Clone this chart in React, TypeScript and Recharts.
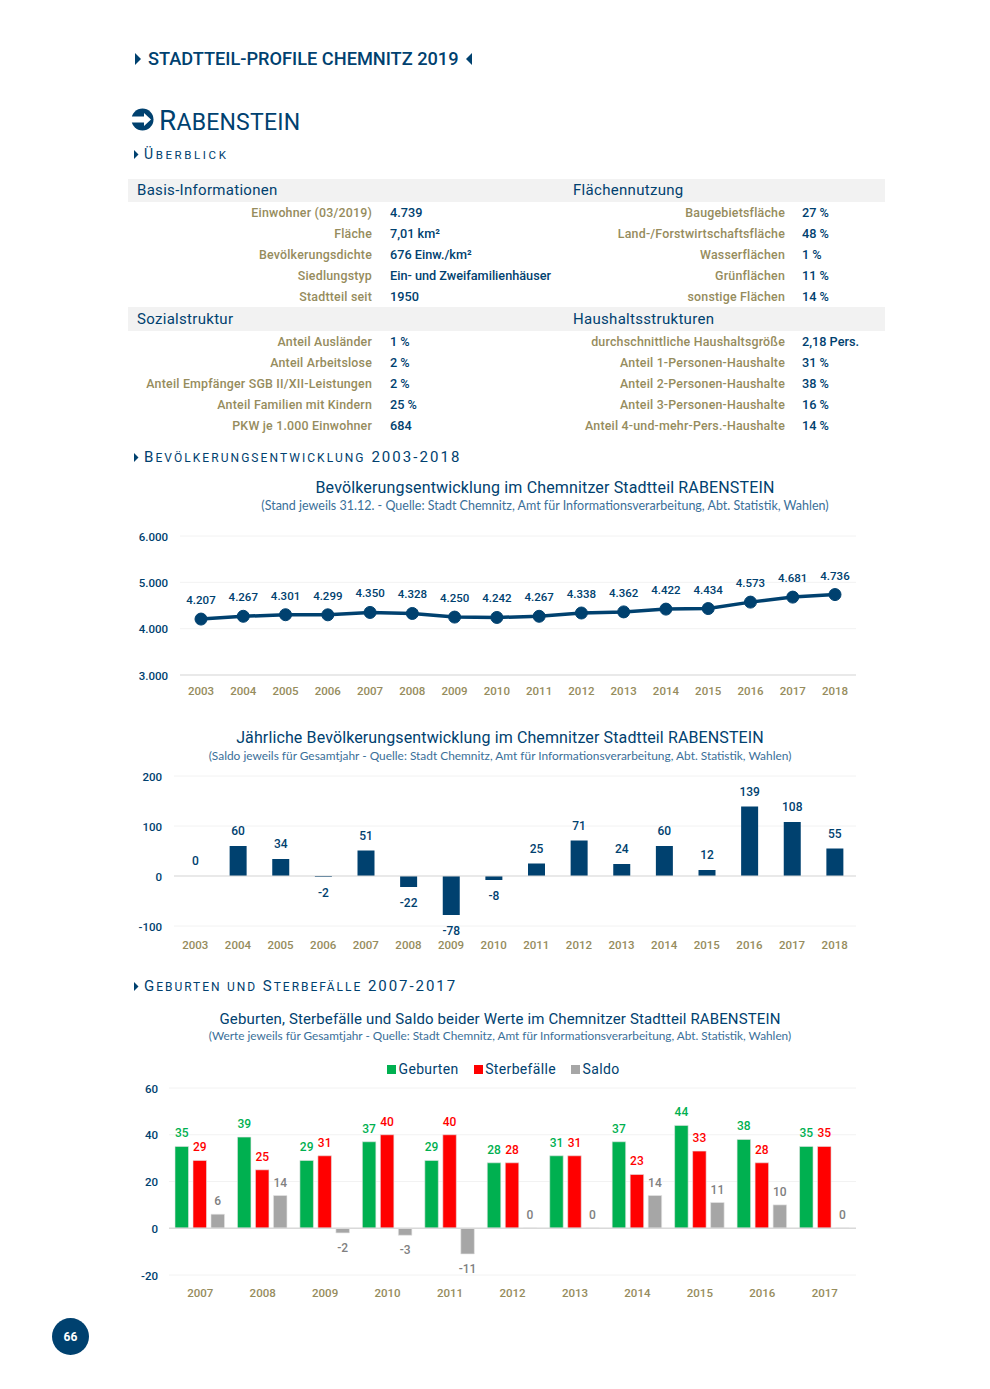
import React from "react";
import {
  BarChart,
  Bar,
  LineChart,
  Line,
  XAxis,
  YAxis,
  CartesianGrid,
  ReferenceLine,
  LabelList,
  Legend,
} from "recharts";

const NAVY = "#00416f";
const OLIVE = "#968c5d";
const FONT = "Roboto, sans-serif";

const popYears = ["2003", "2004", "2005", "2006", "2007", "2008", "2009", "2010", "2011", "2012", "2013", "2014", "2015", "2016", "2017", "2018"];
const population = [4207, 4267, 4301, 4299, 4350, 4328, 4250, 4242, 4267, 4338, 4362, 4422, 4434, 4573, 4681, 4736];
const saldoYear = [0, 60, 34, -2, 51, -22, -78, -8, 25, 71, 24, 60, 12, 139, 108, 55];

const birthYears = ["2007", "2008", "2009", "2010", "2011", "2012", "2013", "2014", "2015", "2016", "2017"];
const geburten = [35, 39, 29, 37, 29, 28, 31, 37, 44, 38, 35];
const sterbefaelle = [29, 25, 31, 40, 40, 28, 31, 23, 33, 28, 35];
const saldo = [6, 14, -2, -3, -11, 0, 0, 14, 11, 10, 0];

const popTicks = [3000, 4000, 5000, 6000];
const saldoTicks = [-100, 0, 100, 200];
const birthTicks = [-20, 0, 20, 40, 60];

const basisRows = [
  ["Einwohner (03/2019)", "4.739"],
  ["Fläche", "7,01 km²"],
  ["Bevölkerungsdichte", "676 Einw./km²"],
  ["Siedlungstyp", "Ein- und Zweifamilienhäuser"],
  ["Stadtteil seit", "1950"],
];
const flaecheRows = [
  ["Baugebietsfläche", "27 %"],
  ["Land-/Forstwirtschaftsfläche", "48 %"],
  ["Wasserflächen", "1 %"],
  ["Grünflächen", "11 %"],
  ["sonstige Flächen", "14 %"],
];
const sozialRows = [
  ["Anteil Ausländer", "1 %"],
  ["Anteil Arbeitslose", "2 %"],
  ["Anteil Empfänger SGB II/XII-Leistungen", "2 %"],
  ["Anteil Familien mit Kindern", "25 %"],
  ["PKW je 1.000 Einwohner", "684"],
];
const haushaltRows = [
  ["durchschnittliche Haushaltsgröße", "2,18 Pers."],
  ["Anteil 1-Personen-Haushalte", "31 %"],
  ["Anteil 2-Personen-Haushalte", "38 %"],
  ["Anteil 3-Personen-Haushalte", "16 %"],
  ["Anteil 4-und-mehr-Pers.-Haushalte", "14 %"],
];

const popData = popYears.map((year, i) => ({ year, value: population[i] }));
const saldoData = popYears.map((year, i) => ({ year, value: saldoYear[i] }));
const birthData = birthYears.map((year, i) => ({
  year,
  Geburten: geburten[i],
  Sterbefälle: sterbefaelle[i],
  Saldo: saldo[i],
}));

const de = (v: number) => v.toLocaleString("de-DE");

// page text, placed by its vertical centre
function T({ x, y, size = 13, color = NAVY, anchor = "left", weight = 400, spacing = 0, font = FONT, children }: any) {
  const shift = anchor === "left" ? "0" : anchor === "center" ? "-50%" : "-100%";
  return (
    <div
      style={{
        position: "absolute",
        left: x,
        top: y,
        transform: `translate(${shift}, -50%)`,
        fontFamily: font,
        fontSize: size,
        fontWeight: weight,
        letterSpacing: spacing,
        color,
        whiteSpace: "nowrap",
        lineHeight: 1,
      }}
    >
      {children}
    </div>
  );
}

// small caps by hand: lower case letters get the smaller size
function Caps({ text, small }: { text: string; small: number }) {
  return (
    <>
      {text.split("").map((c, i) =>
        c !== c.toUpperCase() ? (
          <span key={i} style={{ fontSize: small }}>
            {c.toUpperCase()}
          </span>
        ) : (
          <span key={i}>{c}</span>
        )
      )}
    </>
  );
}

function Arrow({ x, y, dir = 1, size = 5 }: any) {
  const pts = dir > 0 ? `0,0 ${size},${size} 0,${size * 2}` : `${size},0 0,${size} ${size},${size * 2}`;
  return (
    <svg style={{ position: "absolute", left: x, top: y - size }} width={size} height={size * 2}>
      <polygon points={pts} fill={NAVY} />
    </svg>
  );
}

function Rows({ rows, top, labelX, valueX }: { rows: string[][]; top: number; labelX: number; valueX: number }) {
  return (
    <>
      {rows.map((r, i) => (
        <React.Fragment key={r[0]}>
          <T x={labelX} y={top + i * 21 + 0.5} size={12.4} color={OLIVE} anchor="right" spacing={0.2} weight={500}>
            {r[0]}
          </T>
          <T x={valueX} y={top + i * 21 + 0.5} size={12.7} weight={500}>
            {r[1]}
          </T>
        </React.Fragment>
      ))}
    </>
  );
}

const Band = ({ top, height }: any) => (
  <div style={{ position: "absolute", left: 128, top, width: 757, height, background: "#f2f2f2" }} />
);

const barLabel = (fill: string, gapUp: number, gapDown: number) => (p: any) => {
  const top = Math.min(p.y, p.y + p.height);
  const bottom = Math.max(p.y, p.y + p.height);
  const cy = p.value < 0 ? bottom + gapDown : top - gapUp;
  return (
    <text x={p.x + p.width / 2} y={cy} fill={fill} fontSize={12} fontFamily={FONT} fontWeight={500} textAnchor="middle" dominantBaseline="central">
      {p.value}
    </text>
  );
};

const lineLabel = (p: any) => (
  <text x={p.x} y={p.y - 19} fill={NAVY} fontSize={11.5} fontFamily={FONT} fontWeight={500} textAnchor="middle" dominantBaseline="central">
    {de(p.value)}
  </text>
);

const legendContent = ({ payload }: any) => (
  <div style={{ display: "flex", height: 18, alignItems: "center", fontFamily: FONT, fontSize: 14, letterSpacing: 0.35, color: NAVY, whiteSpace: "nowrap" }}>
    {(payload || []).map((e: any) => (
      <span key={e.value} style={{ display: "flex", alignItems: "center", marginRight: 15 }}>
        <span style={{ width: 9, height: 9, background: e.color, marginRight: 2.5 }} />
        {e.value}
      </span>
    ))}
  </div>
);

const yTick = { fontSize: 11.5, fontFamily: FONT, fontWeight: 500, fill: NAVY, dy: 0.5 };
const xTick = { fontSize: 11.5, fontFamily: FONT, fontWeight: 500, fill: OLIVE };
const barEdge = { stroke: "#e4e4e4", strokeWidth: 0.6 };

export default function App() {
  return (
    <div style={{ position: "absolute", left: 0, top: 0, width: 990, height: 1389, background: "#fff", overflow: "hidden" }}>
      <Arrow x={135} y={59} size={6} />
      <T x={148} y={59} size={18.2} weight={500}>STADTTEIL-PROFILE CHEMNITZ 2019</T>
      <Arrow x={466} y={59} dir={-1} size={6} />

      <svg style={{ position: "absolute", left: 131, top: 108 }} width={23} height={23}>
        <circle cx={11.5} cy={11.5} r={11} fill={NAVY} />
        <path d="M0 8.5 H13 V5 L20 11.5 L13 18 V14.5 H0 Z" fill="#fff" />
      </svg>
      <T x={159} y={121} size={28} spacing={0.2}><Caps text="Rabenstein" small={23} /></T>

      <Arrow x={134} y={154} size={4.5} />
      <T x={144} y={154} size={14} spacing={2.6}><Caps text="Überblick" small={11.5} /></T>

      <Band top={179} height={23} />
      <Band top={307} height={24} />
      <T x={137} y={190} size={15} spacing={0.3}>Basis-Informationen</T>
      <T x={573} y={190} size={15} spacing={0.3}>Flächennutzung</T>
      <T x={137} y={319} size={15} spacing={0.3}>Sozialstruktur</T>
      <T x={573} y={319} size={15} spacing={0.3}>Haushaltsstrukturen</T>
      <Rows rows={basisRows} top={212} labelX={372} valueX={390} />
      <Rows rows={flaecheRows} top={212} labelX={785} valueX={802} />
      <Rows rows={sozialRows} top={341} labelX={372} valueX={390} />
      <Rows rows={haushaltRows} top={341} labelX={785} valueX={802} />

      <Arrow x={134} y={457} size={4.5} />
      <T x={144} y={457} size={15} spacing={2.05}><Caps text="Bevölkerungsentwicklung 2003-2018" small={12} /></T>
      <T x={545} y={488} size={16} anchor="center" spacing={0.15}>Bevölkerungsentwicklung im Chemnitzer Stadtteil RABENSTEIN</T>
      <T x={545} y={506} size={12.5} anchor="center" font="Lato, sans-serif" color="#3a6f99">(Stand jeweils 31.12. - Quelle: Stadt Chemnitz, Amt für Informationsverarbeitung, Abt. Statistik, Wahlen)</T>

      <div style={{ position: "absolute", left: 120, top: 526 }}>
        <LineChart width={760} height={180} data={popData} margin={{ top: 10, right: 24, bottom: 0, left: 0 }}>
          <CartesianGrid vertical={false} stroke="#f2f2f2" />
          <XAxis dataKey="year" interval={0} height={31} tickLine={false} tickSize={0} tickMargin={12} padding={{ left: 21, right: 21 }} tick={xTick} axisLine={{ stroke: "#d9d9d9" }} />
          <YAxis width={60} domain={[3000, 6000]} ticks={popTicks} tickFormatter={de} axisLine={false} tickLine={false} tickSize={0} tickMargin={12} tick={yTick} />
          <Line dataKey="value" stroke={NAVY} strokeWidth={3.5} dot={{ r: 6, fill: NAVY, stroke: NAVY, strokeWidth: 1 }} isAnimationActive={false}>
            <LabelList dataKey="value" content={lineLabel} />
          </Line>
        </LineChart>
      </div>

      <T x={500} y={738} size={16} anchor="center" spacing={0.12}>Jährliche Bevölkerungsentwicklung im Chemnitzer Stadtteil RABENSTEIN</T>
      <T x={500} y={756} size={11.9} anchor="center" font="Lato, sans-serif" color="#3a6f99">(Saldo jeweils für Gesamtjahr - Quelle: Stadt Chemnitz, Amt für Informationsverarbeitung, Abt. Statistik, Wahlen)</T>

      <div style={{ position: "absolute", left: 120, top: 766 }}>
        <BarChart width={760} height={190} data={saldoData} margin={{ top: 10, right: 24, bottom: 0, left: 0 }}>
          <CartesianGrid vertical={false} stroke="#f2f2f2" />
          <XAxis dataKey="year" interval={0} height={30} axisLine={false} tickLine={false} tickSize={0} tickMargin={15} tick={xTick} />
          <YAxis width={54} domain={[-100, 200]} ticks={saldoTicks} axisLine={false} tickLine={false} tickSize={0} tickMargin={12} tick={yTick} />
          <ReferenceLine y={0} stroke="#d9d9d9" />
          <Bar dataKey="value" fill={NAVY} barSize={17} minPointSize={0.01} isAnimationActive={false}>
            <LabelList dataKey="value" content={barLabel(NAVY, 15, 16)} />
          </Bar>
        </BarChart>
      </div>

      <Arrow x={134} y={986} size={4.5} />
      <T x={144} y={986} size={15} spacing={1.95}><Caps text="Geburten und Sterbefälle 2007-2017" small={12} /></T>
      <T x={500} y={1019} size={15} anchor="center" spacing={0.13}>Geburten, Sterbefälle und Saldo beider Werte im Chemnitzer Stadtteil RABENSTEIN</T>
      <T x={500} y={1036} size={11.8} anchor="center" font="Lato, sans-serif" color="#3a6f99">(Werte jeweils für Gesamtjahr - Quelle: Stadt Chemnitz, Amt für Informationsverarbeitung, Abt. Statistik, Wahlen)</T>

      <div style={{ position: "absolute", left: 120, top: 1058 }}>
        <BarChart width={760} height={250} data={birthData} margin={{ top: 12, right: 24, bottom: 0, left: 0 }} barSize={13.5} barGap={4.5}>
          <CartesianGrid vertical={false} stroke="#f2f2f2" />
          <XAxis dataKey="year" interval={0} height={33} axisLine={false} tickLine={false} tickSize={0} tickMargin={14} tick={xTick} />
          <YAxis width={49} domain={[-20, 60]} ticks={birthTicks} axisLine={false} tickLine={false} tickSize={0} tickMargin={11} tick={yTick} />
          <Legend
            verticalAlign="top"
            itemSorter={null}
            content={legendContent}
            wrapperStyle={{ top: 2, left: 267, width: "auto" }}
          />
          <ReferenceLine y={0} stroke="#d9d9d9" strokeWidth={1.5} />
          <Bar dataKey="Geburten" fill="#00b050" {...barEdge} isAnimationActive={false}>
            <LabelList dataKey="Geburten" content={barLabel("#00b050", 13, 15)} />
          </Bar>
          <Bar dataKey="Sterbefälle" fill="#ff0000" {...barEdge} isAnimationActive={false}>
            <LabelList dataKey="Sterbefälle" content={barLabel("#ff0000", 13, 15)} />
          </Bar>
          <Bar dataKey="Saldo" fill="#a6a6a6" minPointSize={0.01} {...barEdge} isAnimationActive={false}>
            <LabelList dataKey="Saldo" content={barLabel("#808080", 13, 15)} />
          </Bar>
        </BarChart>
      </div>

      <svg style={{ position: "absolute", left: 52, top: 1318 }} width={37} height={37}>
        <circle cx={18.5} cy={18.5} r={18.5} fill={NAVY} />
        <text x={18.5} y={19} fill="#fff" fontSize={12} fontWeight={700} fontFamily={FONT} textAnchor="middle" dominantBaseline="central">66</text>
      </svg>
    </div>
  );
}
